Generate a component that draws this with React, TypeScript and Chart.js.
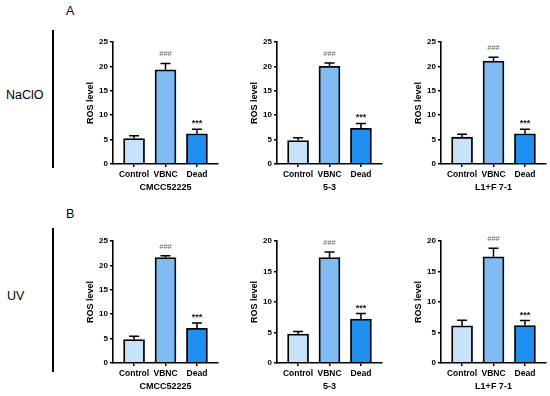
import React, { useEffect, useRef } from "react";
import { Chart, registerables } from "chart.js";

Chart.register(...registerables);

// ---- data ----
const groups = ["Control", "VBNC", "Dead"];
const strains = ["CMCC52225", "5-3", "L1+F 7-1"];
const treatments = ["NaClO", "UV"];
const panelLetters = ["A", "B"];
const sigMarks = ["", "###", "***"];
const barColors = ["#c7e1f8", "#80bbf3", "#1f8ff0"];

const nacloCMCC52225 = [5.2, 19.3, 6.2];
const nacloCMCC52225Err = [0.6, 1.3, 0.9];
const naclo53 = [4.8, 20.0, 7.3];
const naclo53Err = [0.6, 0.7, 1.0];
const nacloL1F71 = [5.5, 21.1, 6.2];
const nacloL1F71Err = [0.6, 0.8, 0.9];

const uvCMCC52225 = [4.8, 21.6, 7.1];
const uvCMCC52225Err = [0.7, 0.4, 1.1];
const uv53 = [4.75, 17.3, 7.2];
const uv53Err = [0.4, 0.9, 0.9];
const uvL1F71 = [6.1, 17.4, 6.15];
const uvL1F71Err = [0.9, 1.4, 0.8];

const nacloYMax = [25, 25, 25];
const uvYMax = [25, 20, 20];
const yStep = 5;
const yTitle = "ROS level";

const rows = [
  { means: [nacloCMCC52225, naclo53, nacloL1F71], errs: [nacloCMCC52225Err, naclo53Err, nacloL1F71Err], yMax: nacloYMax },
  { means: [uvCMCC52225, uv53, uvL1F71], errs: [uvCMCC52225Err, uv53Err, uvL1F71Err], yMax: uvYMax },
];

// ---- layout ----
const FONT = "'Liberation Sans', Arial, Helvetica, sans-serif";
const axisXs = [113, 277, 441];
const rowTops = [42, 241];
const Y_AXIS_W = 36;
const PLOT_W = 105;
const PLOT_H = 122;
const PAD_TOP = 12;
const PAD_RIGHT = 3;
const X_AXIS_H = 29;
const CANVAS_W = Y_AXIS_W + PLOT_W + PAD_RIGHT;
const CANVAS_H = PAD_TOP + PLOT_H + X_AXIS_H;

type PanelProps = {
  means: number[];
  errs: number[];
  strain: string;
  yMax: number;
  left: number;
  top: number;
};

function Panel({ means, errs, strain, yMax, left, top }: PanelProps) {
  const ref = useRef<HTMLCanvasElement | null>(null);

  useEffect(() => {
    const canvas = ref.current;
    if (!canvas) return;

    const errorPlugin = {
      id: "errorBars",
      afterDatasetsDraw(chart: any) {
        const { ctx } = chart;
        const xs = chart.scales.x;
        const ys = chart.scales.y;
        ctx.save();
        ctx.strokeStyle = "#000";
        ctx.lineWidth = 1.5;
        means.forEach((m, i) => {
          const px = xs.getPixelForValue(i);
          const y0 = ys.getPixelForValue(m);
          const y1 = ys.getPixelForValue(m + errs[i]);
          ctx.beginPath();
          ctx.moveTo(px, y0);
          ctx.lineTo(px, y1);
          ctx.moveTo(px - 5, y1);
          ctx.lineTo(px + 5, y1);
          ctx.stroke();
          const mark = sigMarks[i];
          if (mark) {
            ctx.textAlign = "center";
            ctx.textBaseline = "alphabetic";
            if (mark === "###") {
              ctx.fillStyle = "#666";
              ctx.font = `7.5px ${FONT}`;
              ctx.fillText(mark, px, y1 - 7);
            } else {
              ctx.fillStyle = "#222";
              ctx.font = `bold 9px ${FONT}`;
              ctx.fillText(mark, px, y1 - 3);
            }
          }
        });
        ctx.restore();
      },
    };

    const chart = new Chart(canvas, {
      type: "bar",
      data: {
        datasets: [
          {
            data: means.map((m, i) => ({ x: i, y: m })),
            backgroundColor: barColors,
            borderColor: "#000",
            borderWidth: 1.8,
            borderSkipped: "start",
            barThickness: 21,
          } as any,
        ],
      },
      options: {
        animation: false,
        responsive: false,
        events: [],
        layout: { padding: { top: PAD_TOP, right: PAD_RIGHT, left: 0, bottom: 0 } },
        plugins: { legend: { display: false }, tooltip: { enabled: false } },
        scales: {
          x: {
            type: "linear",
            offset: false,
            min: -0.67,
            max: 2.67,
            afterBuildTicks: (s: any) => {
              s.ticks = groups.map((_, i) => ({ value: i }));
            },
            afterFit: (s: any) => {
              s.height = X_AXIS_H;
            },
            ticks: {
              autoSkip: false,
              maxRotation: 0,
              padding: 3,
              color: "#000",
              font: { family: FONT, size: 8.5, weight: "bold" },
              callback: (v: any) => groups[Math.round(Number(v))],
            },
            grid: { offset: false, drawOnChartArea: false, drawTicks: true, tickLength: 3, color: "#000", lineWidth: 1.5 },
            border: { color: "#000", width: 1.6, z: 1 },
            title: {
              display: true,
              text: strain,
              color: "#000",
              font: { family: FONT, size: 9, weight: "bold" },
              padding: { top: 0, bottom: 0 },
            },
          },
          y: {
            min: 0,
            max: yMax,
            afterFit: (s: any) => {
              s.width = Y_AXIS_W;
            },
            ticks: {
              stepSize: yStep,
              padding: 2,
              color: "#000",
              font: { family: FONT, size: 8, weight: "bold" },
            },
            grid: { drawOnChartArea: false, drawTicks: true, tickLength: 3, color: "#000", lineWidth: 1.5 },
            border: { color: "#000", width: 1.6 },
            title: {
              display: true,
              text: yTitle,
              color: "#000",
              font: { family: FONT, size: 9, weight: "bold" },
              padding: { top: 8, bottom: 0 },
            },
          },
        },
      } as any,
      plugins: [errorPlugin],
    });

    return () => chart.destroy();
  }, [means, errs, strain, yMax]);

  return (
    <canvas
      ref={ref}
      width={CANVAS_W}
      height={CANVAS_H}
      style={{ position: "absolute", left, top, width: CANVAS_W, height: CANVAS_H }}
    />
  );
}

export default function App() {
  const labelStyle: React.CSSProperties = {
    position: "absolute",
    fontFamily: FONT,
    color: "#000",
    lineHeight: 1,
    whiteSpace: "nowrap",
  };
  return (
    <div
      style={{
        position: "fixed",
        left: 0,
        top: 0,
        width: 550,
        height: 396,
        background: "#fff",
        overflow: "hidden",
      }}
    >
      {/* panel letters */}
      <div style={{ ...labelStyle, left: 66, top: 5, fontSize: 12.5 }}>{panelLetters[0]}</div>
      <div style={{ ...labelStyle, left: 66, top: 208, fontSize: 12.5 }}>{panelLetters[1]}</div>
      {/* treatment labels */}
      <div style={{ ...labelStyle, left: 6, top: 89, fontSize: 12.5 }}>{treatments[0]}</div>
      <div style={{ ...labelStyle, left: 7, top: 290, fontSize: 12.5 }}>{treatments[1]}</div>
      {/* vertical separators */}
      <div style={{ position: "absolute", left: 52, top: 30, width: 1.5, height: 138, background: "#000" }} />
      <div style={{ position: "absolute", left: 52, top: 228, width: 1.5, height: 144, background: "#000" }} />

      {rows.map((row, r) =>
        strains.map((strain, c) => (
          <Panel
            key={`${r}-${c}`}
            means={row.means[c]}
            errs={row.errs[c]}
            strain={strain}
            yMax={row.yMax[c]}
            left={axisXs[c] - Y_AXIS_W}
            top={rowTops[r] - PAD_TOP}
          />
        ))
      )}
    </div>
  );
}
